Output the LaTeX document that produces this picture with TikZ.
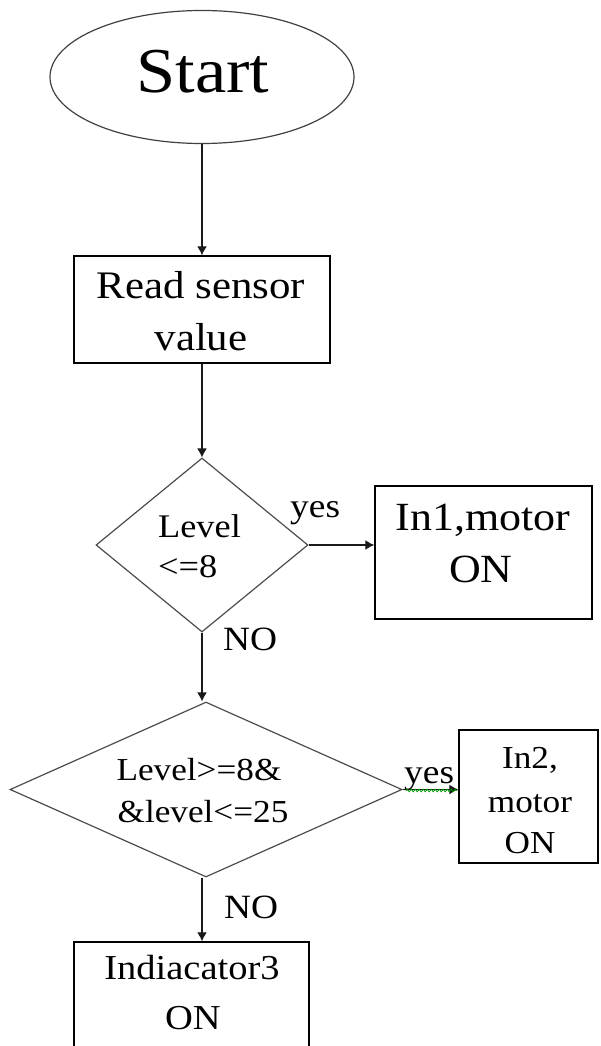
\documentclass[tikz,border=0pt]{standalone}
\usepackage{fontspec}
\setmainfont{Liberation Serif}[FakeStretch=1.1]
\usetikzlibrary{shapes.geometric,arrows.meta,decorations.pathmorphing}
\begin{document}
\begin{tikzpicture}[x=1pt,y=-1pt,
  box/.style={draw=black,line width=1.4pt,rectangle,inner sep=0pt},
  dia/.style={draw=black!70,line width=1.2pt,diamond,inner sep=0pt,aspect=1},
  oval/.style={draw=black!75,line width=1.2pt,ellipse,inner sep=0pt},
  lbl/.style={inner sep=0pt,anchor=base},
  lblw/.style={inner sep=0pt,anchor=base west},
  conn/.style={line width=1.3pt,draw=black!90,-{Latex[length=9pt,width=10pt]}},
  fS/.style={font=\fontsize{64}{64}\selectfont},
  fR/.style={font=\fontsize{39}{39}\selectfont},
  fM/.style={font=\fontsize{40}{40}\selectfont},
  fL/.style={font=\fontsize{33}{33}\selectfont},
  fK/.style={font=\fontsize{32}{32}\selectfont},
  fI/.style={font=\fontsize{35}{35}\selectfont},
  fY/.style={font=\fontsize{34}{34}\selectfont}]
\useasboundingbox (0,0) rectangle (600,1046);
\clip (0,0) rectangle (600,1046);
% shapes
\node[oval,minimum width=304pt,minimum height=133pt] (start) at (202,77) {};
\node[box,minimum width=256pt,minimum height=107pt] (read) at (202,309.5) {};
\node[dia,minimum width=212pt,minimum height=174pt] (d1) at (202,545) {};
\node[box,minimum width=217pt,minimum height=133pt] (in1) at (483.5,552.5) {};
\node[dia,minimum width=392pt,minimum height=175pt] (d2) at (206,789.5) {};
\node[box,minimum width=139pt,minimum height=133pt] (in2) at (528.5,796.5) {};
\node[box,minimum width=235pt,minimum height=118pt] (ind) at (191.5,1001) {};
% texts
\node[lbl,fS] (tstart) at (203,93) {Start};
\node[lbl,fR] (tread1) at (201,298) {Read sensor};
\node[lbl,fR] (tread2) at (201,350) {value};
\node[lblw,fL] (tlev1) at (158,537) {Level};
\node[lblw,fL] (tlev2) at (158,577) {<=8};
\node[lbl,fM] (tin1a) at (483,530) {In1,motor};
\node[lbl,fM] (tin1b) at (481,582) {ON};
\node[lbl,fK] (tlev3) at (199,780) {Level>=8\&};
\node[lbl,fK] (tlev4) at (203,822) {\&level<=25};
\node[lbl,fK] (tin2a) at (530,768) {In2,};
\node[lbl,fK] (tin2b) at (530,812) {motor};
\node[lbl,fK] (tin2c) at (530,853) {ON};
\node[lbl,fI] (tind1) at (192,979) {Indiacator3};
\node[lbl,fI] (tind2) at (193,1029) {ON};
% labels
\node[lblw,fY] (yes1) at (290,517) {yes};
\node[lblw,fY] (no1) at (223,650) {NO};
\node[lblw,fY] (yes2) at (404,783) {yes};
\node[lblw,fY] (no2) at (224,918) {NO};
% connectors
\draw[conn] (start.south) -- (read.north);
\draw[conn] (read.south) -- (d1.north);
\draw[conn] (d1.east) -- (d1.east -| in1.west);
\draw[conn] (d1.south) -- (d1.south |- d2.north);
\draw[conn] (d2.east) -- (d2.east -| in2.west);
\draw[conn] (d1.south |- d2.south) -- (d1.south |- ind.north);
% spell-check squiggle under second yes
\coordinate (sq1) at (406,790.5);
\coordinate (sq2) at (457,790.5);
\draw[green!60!black,line width=0.8pt,decorate,decoration={snake,segment length=4pt,amplitude=1.3pt}] (sq1) -- (sq2);
\end{tikzpicture}
\end{document}
